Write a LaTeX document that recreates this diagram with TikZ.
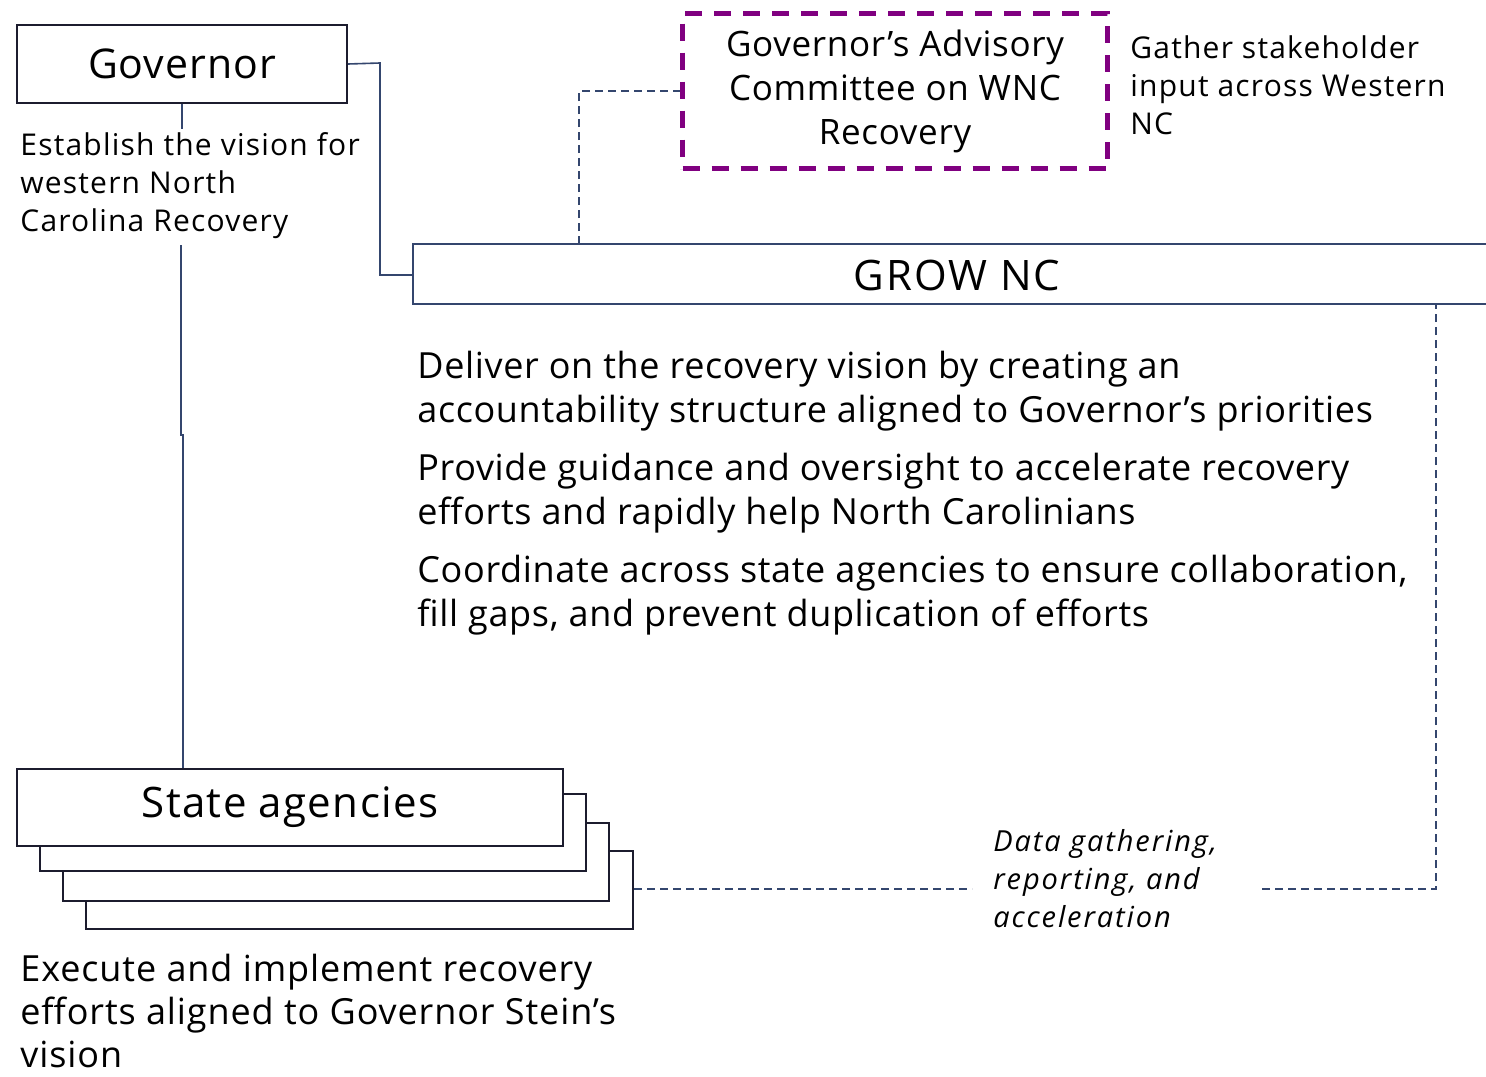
\documentclass[tikz,border=0pt]{standalone}
\usepackage{fontspec}
\setmainfont{Open Sans}
\newcommand{\fnt}[3]{\addfontfeatures{LetterSpace=#3}\fontsize{#1}{#2}\selectfont}
\begin{document}
\begin{tikzpicture}[x=0.5pt,y=-0.5pt,
  box/.style={draw=boxc, line width=1pt, fill=white, inner sep=0pt},
  conn/.style={draw=navy, line width=0.8pt},
  dconn/.style={draw=navy, line width=0.8pt, dash pattern=on 4pt off 2.5pt},
  txt/.style={inner sep=0pt, align=left, text=black},
  small/.style={txt, font=\fnt{15}{19}{4}},
  body/.style={txt, font=\fnt{18}{22}{1.8}},
]
\definecolor{navy}{HTML}{34466E}
\definecolor{boxc}{HTML}{1C1C2E}
\definecolor{purp}{HTML}{800080}
\useasboundingbox[fill=white] (0,0) rectangle (1486,1076);

% Governor
\node[box, minimum width=165pt, minimum height=39pt, anchor=north west,
  font=\fnt{20.5}{25}{2.5}] (gov) at (16,24) {Governor};
\node[small, anchor=north west] (govtxt) at (20,132)
  {Establish the vision for\\western North\\Carolina Recovery};

% GROW NC
\draw[conn, line width=1pt] (1490,244) -- (413,244) -- (413,304) -- (1490,304);
\node[inner sep=0pt, font=\fnt{21}{24}{4.5}] (grow) at (957,275) {GROW NC};
\coordinate (growL) at (413,275);

% Advisory committee
\node[draw=purp, line width=2.5pt, dash pattern=on 8.5pt off 6pt, anchor=north west,
  minimum width=212.5pt, minimum height=77.5pt, inner sep=0pt, align=center,
  font=\fnt{17.5}{22}{2}] (adv) at (680,11)
  {Governor’s Advisory\\Committee on WNC\\Recovery};
\node[small, anchor=north west] (advtxt) at (1130,35)
  {Gather stakeholder\\input across Western\\NC};

% body text
\node[body, anchor=north west] (b1) at (417,351)
  {Deliver on the recovery vision by creating an\\accountability structure aligned to Governor’s priorities};
\node[body, anchor=north west] (b2) at (417,453)
  {Provide guidance and oversight to accelerate recovery\\efforts and rapidly help North Carolinians};
\node[body, anchor=north west] (b3) at (417,555)
  {Coordinate across state agencies to ensure collaboration,\\fill gaps, and prevent duplication of efforts};

% State agencies stack
\node[box, minimum width=273.5pt, minimum height=39pt, anchor=north west] (sa4) at (85,850) {};
\node[box, minimum width=273pt, minimum height=39pt, anchor=north west] (sa3) at (62,822) {};
\node[box, minimum width=273pt, minimum height=38.5pt, anchor=north west] (sa2) at (39,793) {};
\node[box, minimum width=273pt, minimum height=38.5pt, anchor=north west,
  font=\fnt{21}{25}{3.2}] (sa) at (16,768) {State agencies};
\node[txt, anchor=north west, font=\fnt{18}{21.5}{2.5}] (satxt) at (20,954)
  {Execute and implement recovery\\efforts aligned to Governor Stein’s\\vision};

% data label
\node[txt, anchor=north west, font=\itshape\fnt{14.5}{19}{6.5}] (data) at (993,829)
  {Data gathering,\\reporting, and\\acceleration};

% connectors
\draw[conn] (gov.east) -- (380,63) |- (growL);
\draw[conn] (gov.south) -- ++(0,25);
\draw[conn] (181,245) -- (181,435) -- (183,435) -- (sa.north -| 183,0);
\draw[dconn] (579,244) |- (adv.west);
\coordinate (d1) at (972,889);
\coordinate (d2) at (1262,889);
\draw[dconn] (sa4.east |- d1) -- (d1);
\draw[dconn] (d2) -- (1436,889) -- (1436,305);
\end{tikzpicture}
\end{document}
